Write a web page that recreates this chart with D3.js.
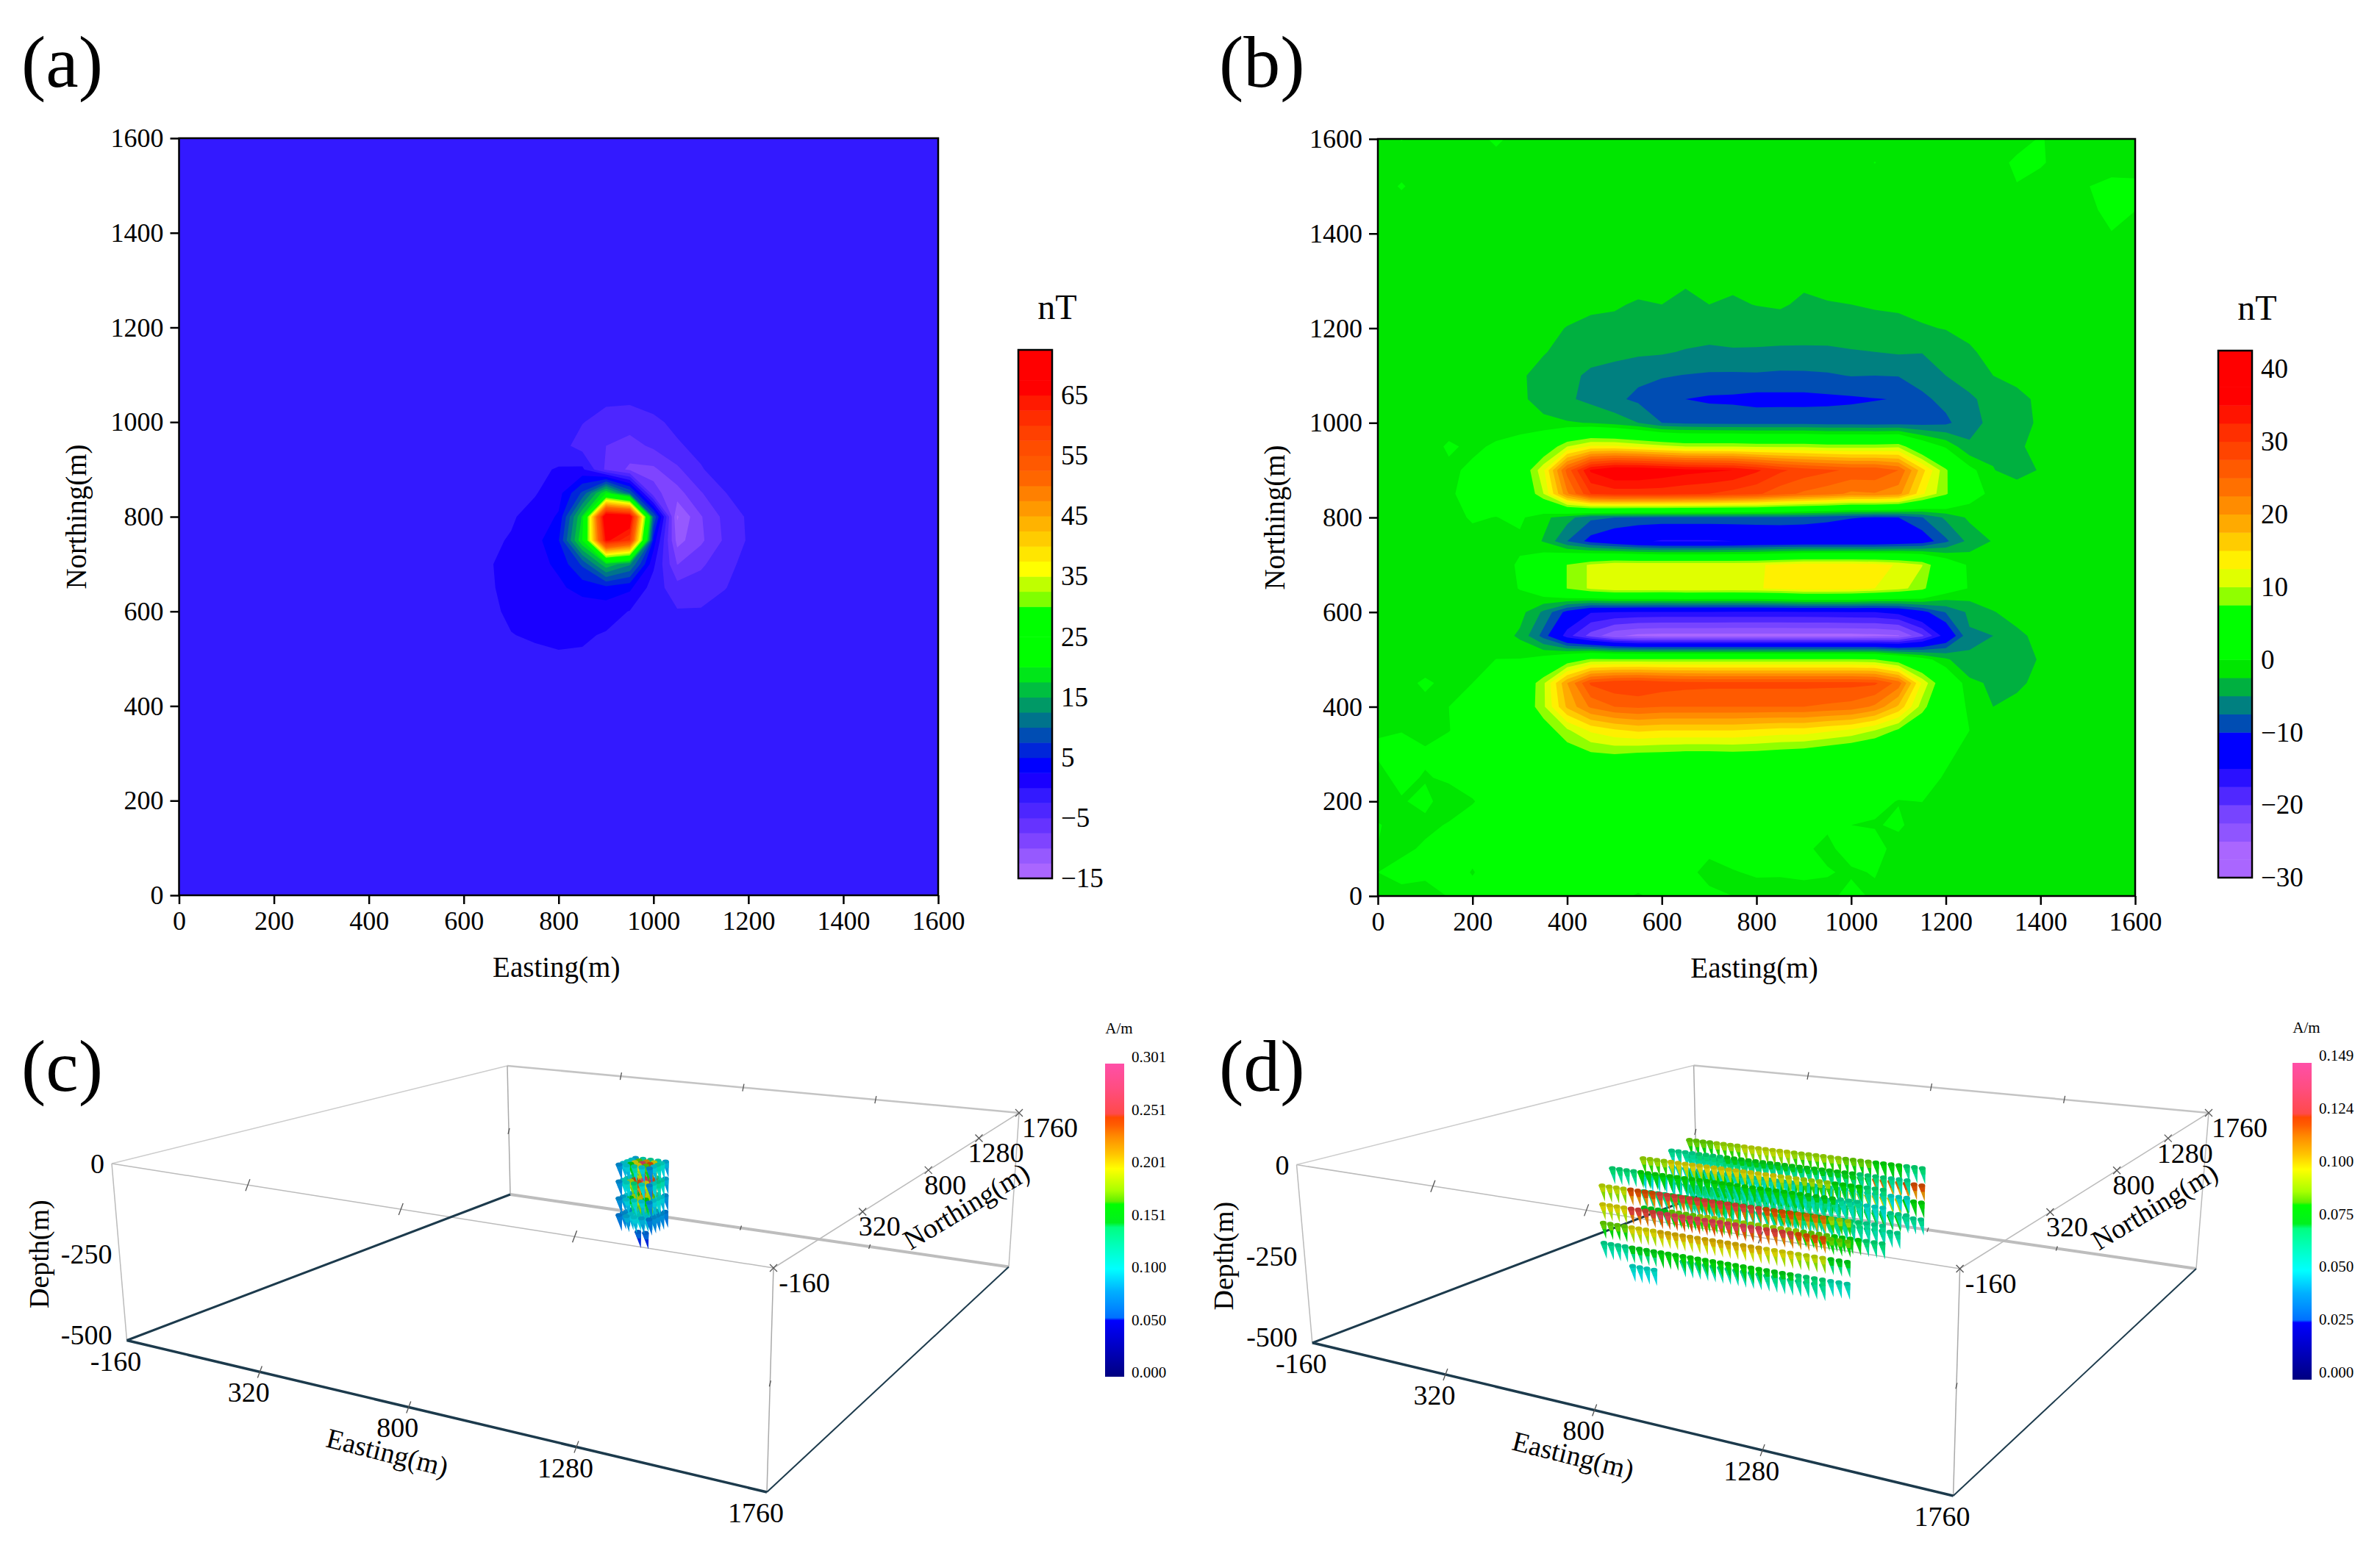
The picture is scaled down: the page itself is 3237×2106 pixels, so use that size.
<!DOCTYPE html>
<html>
<head>
<meta charset="utf-8">
<script src="https://d3js.org/d3.v7.min.js"></script>
<style>
  body { margin: 0; background: #fff; }
  text { font-family: "Liberation Serif", serif; fill: #000; }
</style>
</head>
<body>
<div id="my_dataviz"></div>
<script>
// grid nodes of the two contour maps (metres)
var gridEast = d3.range(0, 1601, 50);
var gridNorth = d3.range(1600, -1, -50);
var mapTicks = [0, 200, 400, 600, 800, 1000, 1200, 1400, 1600];

// panel (a): flat background plus the window around the anomaly
var aBackground = -1;
var aPatchEast = [600, 650, 700, 750, 800, 850, 900, 950, 1000, 1050, 1100, 1150, 1200, 1250];
var aPatchNorth = [1050, 1000, 950, 900, 850, 800, 750, 700, 650, 600, 550, 500];
var aPatch = [
  [-1,-1,-1,-1,-1,-1,-2,-2,-1.5,-1,-1,-1,-1,-1],
  [-1,-1,-1,-1,-1,-2.4,-3.4,-3.8,-3,-1.9,-1,-1,-1,-1],
  [-1,-1,-1,-1,-1.5,-3.5,-5,-6,-4.5,-2.8,-1.8,-1,-1,-1],
  [-1,-1,-1,-0.5,0.2,0.5,-5.5,-8,-8,-5.5,-2.7,-1.3,-1,-1],
  [-1,-1,-0.5,-0.2,1.5,8,20,10,-7,-8.5,-5.2,-2.6,-1.2,-1],
  [-1,-1,-0.3,1,2.8,18,72,70,10,-12.8,-7.7,-4.3,-2.1,-1],
  [-1,-0.5,0.2,1.5,4.8,20,66,60,4,-11,-8,-4.6,-2.2,-1],
  [-1,-0.2,0.6,1.6,3,8,17,13,0.5,-7.6,-5.5,-3.2,-1.8,-1],
  [-1,-0.3,0.6,1.2,2,3.5,4.2,3,-1.2,-4,-3.6,-2.6,-1.5,-1],
  [-1,-0.4,0.3,0.8,1.2,0.9,1,-0.1,-1,-2.3,-2.3,-1.6,-1,-1],
  [-1,-1,-0.05,0.2,0.5,0.3,-0.2,-1,-1,-1,-1,-1,-1,-1],
  [-1,-1,-1,-0.4,-0.3,-0.3,-1,-1,-1,-1,-1,-1,-1,-1]
];
var aTicks = [65, 55, 45, 35, 25, 15, 5, -5, -15];
var aBarDomain = [-15, 72.5];
// one colour per 2.5 nT band, lowest first
var aBands = ["#aa66ff","#9659ff","#7f44ff","#6633ff","#4d26ff","#3319ff","#1a00ff","#0000ff","#0026d9","#004db3",
  "#00738c","#009966","#00bf40","#00e619","#00ff00","#00ff00","#00ff00","#00ff00","#80ff00","#bfff00",
  "#ffff00","#ffe600","#ffcc00","#ffb300","#ff9900","#ff8000","#ff6600","#ff5900","#ff4d00","#ff4000",
  "#ff2d00","#ff1a00","#ff0000","#ff0000","#ff0000"];

// panel (b): rows from north 1600 down to 0, columns east 0 to 1600
var bGrid = [
  [-1,.1,-1,-1,-1,.5,-1,-1,-1,-1,-1,-1,-1,-1,-1,-1,-1,-1,-1,-1,-1,-1,-1,-1,-1,-1,-1,-1,.2,-1,-1,-1,-1],
  [-1,-1,-1,-1,-1,-1,-1,-1,-1,-1,-1,-1,-1,-1,-1,-1,-1,-1,-1,-1,-1,.05,-1,-1,-1,-1,-1,.5,.3,-1,-1,-1,-1],
  [-1,.2,-1,-1,-1,-1,-1,-1,-1,-1,-1,-1,-1,-1,-1,-1,-1,-1,-1,-1,-1,-1,-1,-1,-1,-1,-1,-.1,-1,-1,-.05,.6,.5],
  [-1,-1,-1,-1,-1,-1,-1,-1,-1,-1,-1,-1,-1,-1,-1,-1,-1,-1,-1,-1,-1,-1,-1,-1,-1,-1,-1,-1,-1,-1,-.3,.4,.05],
  [-1,-1,-1,-1,-1,-1,-1,-1,-1,-1,-1,-1,-1,-1,-1,-1,-1,-1,-1,-1,-1,-1,-1,-1,-1,-1,-1,-1,-1,-1,-1,-.05,-1],
  [-1,-1,-1,-1,-1,-1,-1,-1,-1,-1,-1,-1,-1,-1,-1,-1,-1,-1,-1,-1,-1,-1,-1,-1,-1,-1,-1,-1,-1,-1,-1,-1,-1],
  [-1,-1,-1,-1,-1,-1,-1,-1,-1,-1.4,-1.6,-1.8,-1.9,-2.3,-1.9,-2.2,-1.9,-1.8,-2.2,-2,-1.9,-1.8,-1.6,-1.3,-1,-1,-1,-1,-1,-1,-1,-.02,-1],
  [-1,-1,-1,-1,-1,-1,-1,-1.1,-1.5,-2.1,-2.3,-2.7,-2.5,-2.9,-2.5,-2.7,-2.45,-2.3,-2.8,-2.6,-2.5,-2.3,-2.1,-1.8,-1.5,-1.3,-1,-1,-1,-1,-1,-1,-1],
  [-1,-1,-1,-1,-1,-1,-1.2,-1.8,-2.6,-3,-3,-3.4,-3.2,-3.6,-3.4,-3.6,-3.4,-3.3,-3.7,-3.6,-3.4,-3.2,-3.2,-2.7,-2.4,-1.9,-1.3,-1.1,-1,-1,-1,-1,-1],
  [-1,-1,-1,-1,-1,-1.1,-1.2,-2.4,-3,-4,-4.3,-4.5,-4.7,-5.2,-5.7,-5.3,-5.4,-5.6,-5.5,-5.5,-5.2,-5,-4.7,-4.9,-3.8,-2.8,-1.8,-1.2,-1,-1,-1,-1,-1],
  [-1,-1,-1,-1,-1,-1,-2.3,-3,-4.3,-5.5,-6,-7,-7.3,-7.6,-7.8,-7.9,-7.8,-8,-8,-7.8,-7.4,-7.5,-7.4,-6.5,-5,-3.7,-2.5,-1.8,-1,-1,-1,-1,-1],
  [-1,-1,-1,-1,-1,-1.3,-2,-3.5,-4.6,-5.7,-7,-8,-9,-10,-10.4,-10.5,-10.9,-10.8,-10.8,-10.6,-10.4,-10.1,-9.9,-8,-6.8,-5.5,-3.9,-3.2,-2,-1.1,-1,-1,-1],
  [-1,-1,-1,-1,-1,-1,-1.5,-1.9,-2.3,-2.6,-3.5,-5,-7.5,-8,-8.2,-8.3,-8.3,-8.4,-8.4,-8.6,-8.6,-8.8,-8.7,-8.5,-8,-6,-4.2,-3.2,-2.2,-1,-1,-1,-1],
  [-1,-1,-1,.3,-.4,.3,1.5,4,10,13,13,12,11,10,10,10,9.5,9.5,9.5,9,9,9,9.5,3,-.5,-4.6,-3,-3,-1.5,-1,-1,-1,-1],
  [-1,-1,-1,-.4,.4,1,4,12,26,35.5,38,38,37,36,35.5,35,33,30.5,29,28,27,27,25,16,8,1,-2.4,-3.5,-2.3,-1,-1,-1,-1],
  [-1,-1,-1,-.3,.8,1.5,3,10,22,30,31,31,31,30.5,30,29,28,26,24.5,23.5,22,22.3,21,13,8,1.5,-.8,-1,-1,-1,-1,-1,-1],
  [-1,-1,-1,-.6,.2,-.05,.5,-1.8,-4,-7,-7.5,-7.8,-8,-8,-8,-8,-8,-8,-8.3,-9,-9.8,-10.2,-10,-7.6,-4.5,-2,-1.2,-1,-1,-1,-1,-1,-1],
  [-1,-1,-1,-1,-.6,-1,-.5,-2.7,-7.5,-11,-13,-14.5,-15.3,-15.3,-15.3,-15,-14.5,-14.2,-14,-14,-14,-14,-13,-12,-8,-4.2,-2.3,-1.2,-1,-1,-1,-1,-1],
  [-1,-1,-1,-1,-1,-1,.3,3,7.6,10.5,12,12,12,12,12,12.1,12.2,13,14,14,14,13.5,12.2,10.1,3,-.5,-1,-1,-1,-1,-1,-1,-1],
  [-1,-1,-.1,-1,-1,-1,.1,3,7.6,10.5,12,12,12,12.3,12.2,12.1,12.3,13,14,14,13.8,12.5,11,8.5,2,-.2,-1,-1,-1,-1,-1,-1,-1],
  [-1,-1,-1,-1,-1,-1,-1.5,-5.5,-11,-14.8,-15,-15.2,-15.3,-15.3,-15.3,-15.4,-15.4,-15.4,-15.3,-15.2,-15,-15,-14,-11,-7.3,-4.5,-2.6,-1.8,-1.2,-1,-1,-1,-1],
  [-1,-1,-1,-1,-1,-.9,-3,-8.5,-16.5,-21,-24.5,-25.7,-26,-26,-26,-26,-26,-26,-26,-26,-26,-25.7,-25.2,-20.5,-13.5,-5.3,-5,-2.9,-2,-1,-1,-1,-1],
  [-1,-1,-1,-.05,-.5,.02,.1,1.5,5,8,8,8,8,8,8,8,8,8,8,8,8,7.6,5,1.5,-2,-4.8,-4,-3,-2.4,-1,-1,-1,-1],
  [-.8,-.6,.3,-.5,0,1,3.5,9.5,20,28,29.5,30,29,28.5,28.3,28.3,28.3,28.3,28.3,28.3,28.3,28,24,12,4,-1.8,-3,-3,-1.8,-1,-1,-1,-1],
  [-1,-.8,-.5,0,.8,1.5,4,9.5,18,23,25,25.5,25,25,25,25,25,25,25,24.5,24,22,17,8.7,2.5,-.5,-2.5,-1.8,-1.2,-1,-1,-1,-1],
  [-.05,-.05,-.4,-.05,.8,1.2,2.5,5.5,9.5,13,14.5,15.5,15,15,15,15,14.5,14,14,13,12,10,7,4,.7,0,-1.4,-1,-1,-1,-1,-1,-1],
  [.1,.5,.2,.7,.9,1,1.5,3,5.5,7,7.5,7,6.8,6.5,6.5,6.7,6.5,6,5.5,4.5,3.5,2.5,1.5,.6,.2,-.3,-1,-1,-1,-1,-1,-1,-1],
  [-.3,.3,-.1,.2,.7,1.2,1.5,2,2.5,3,3.2,3,3,2.8,2.8,2.8,2.8,2.5,2.2,2,1.5,1.2,.8,.4,-.1,-1,-1,-1,-1,-1,-1,-1,-1],
  [-.8,-.1,.3,-.6,-.1,.8,1.3,1.6,1.8,2,2,2,1.8,1.8,1.7,1.6,1.5,1.2,1,.8,.6,.3,-.05,.02,-.8,-1,-1,-1,-1,-1,-1,-1,-1],
  [.1,-.5,-.3,.1,.7,1,1.2,1.4,1.5,1.5,1.4,1.4,1.3,1.2,1.2,1,.8,.6,.4,.2,0,-.1,.2,-.6,-1,-1,-1,-1,-1,-1,-1,-1,-1],
  [-.02,-.3,.2,.7,.5,.9,1,1.1,1.2,1.2,1.1,1,1,.9,.3,.7,.7,.5,.2,-.3,.6,.5,-.5,-1,-1,-1,-1,-1,-1,-1,-1,-1,-1],
  [0,.5,.5,.8,-.1,.9,.9,.9,.8,.8,.7,.6,.5,.4,-.4,-.1,.2,.1,.15,.1,-.2,.1,-.8,-1,-1,-1,-1,-1,-1,-1,-1,-1,-1],
  [-.5,-.5,-.9,.1,.6,.9,.8,.7,.6,.5,.3,-.1,.3,0,.3,0,-.7,-.4,-.3,-.4,.5,-.3,-1,-1,-1,-1,-1,-1,-1,-1,-1,-1,.1]
];
var bTicks = [40, 30, 20, 10, 0, -10, -20, -30];
var bBarDomain = [-30, 42.5];
var bBands = ["#aa66ff","#aa66ff","#8f55ff","#7744ff","#5028ff","#2a10ff","#0000ff","#0000ff","#004db3","#008080",
  "#00b040","#00e600","#00ff00","#00ff00","#00ff00","#90ff00","#e0ff00","#fff000","#ffcc00","#ffaa00",
  "#ff8c00","#ff7000","#ff5a00","#ff4400","#ff2f00","#ff1400","#ff0000","#ff0000","#ff0000"];

// 3D box axes
var eastTicks = [-160, 320, 800, 1280, 1760];
var northTicks = [-160, 320, 800, 1280, 1760];
var depthTicks = [0, -250, -500];

// panel (c): compact source, amplitude by depth, north, east (A/m)
var cEast = [850, 875, 900, 925, 950];
var cNorth = [850, 825, 800, 775, 750];
var cDepth = [-75, -125, -175, -225];
var cAmp = [
  [[.09,.12,.13,.12,.09],[.10,.17,.22,.20,.11],[.11,.20,.27,.24,.12],[.10,.16,.20,.17,.10],[.08,.10,.12,.10,.08]],
  [[.09,.13,.15,.13,.09],[.11,.20,.27,.24,.12],[.12,.25,.29,.27,.13],[.11,.19,.24,.20,.11],[.08,.11,.14,.11,.08]],
  [[.08,.11,.13,.11,.08],[.09,.16,.20,.17,.10],[.10,.19,.21,.19,.11],[.09,.15,.19,.16,.10],[.08,.10,.11,.10,.08]],
  [[.07,.09,.10,.09,.07],[.08,.10,.12,.10,.08],[.08,.11,.12,.11,.08],[.08,.10,.11,.10,.08],[.07,.09,.10,.09,.07]]
];
var cExtraEast = [900, 925];
var cExtraNorth = [775, 775];
var cExtraDepth = [-275, -275];
var cExtraAmp = [.06, .06];
var cBarTicks = ["0.000", "0.050", "0.100", "0.151", "0.201", "0.251", "0.301"];

// panel (d): long rows of cells, amplitude per stretch of the row
var dEast = d3.range(350, 1151, 25);
var dRowNorth = [900, 900, 900, 900, 900, 800, 800, 800, 650, 650, 650, 650, 500, 450, 450, 450, 450, 450, 450];
var dRowDepth = [-280, -230, -180, -130, -80, -195, -145, -95, -240, -190, -140, -90, -90, -355, -315, -300, -240, -185, -130];
var dRowAmp = [
  [.06,.065,.065,.065,.065,.065,.065,.065,null],
  [.07,.075,.075,.075,.075,.075,.075,.08,.065],
  [.075,.08,.075,.075,.075,.085,.09,.10,.08],
  [.065,.07,.07,.065,.065,.065,.075,.115,.12],
  [.085,.09,.095,.095,.09,.09,.085,.08,.07],
  [.065,.07,.07,.07,.07,.07,.07,.07,.065],
  [.055,.06,.06,.06,.06,.06,.06,.06,.055],
  [.065,.07,.075,.075,.075,.075,.075,.07,.065],
  [.075,.085,.09,.09,.09,.09,.085,.08,.07],
  [.07,.075,.08,.08,.08,.08,.075,.07,.065],
  [.055,.06,.06,.06,.06,.06,.06,.06,.055],
  [.09,.10,.10,.10,.10,.095,.09,.08,.07],
  [.07,.08,.08,.08,.08,.08,.08,.075,.065],
  [null,.055,null,null,null,null,null,null,null],
  [null,null,null,.065,.065,.065,.065,.065,null],
  [.065,.075,.08,.08,.08,.08,.075,.07,.06],
  [.085,.10,.105,.105,.105,.105,.10,.095,.075],
  [.10,.125,.13,.13,.13,.13,.125,.12,.085],
  [.095,.12,.125,.125,.125,.125,.12,.115,.09]
];
var dBarTicks = ["0.000", "0.025", "0.050", "0.075", "0.100", "0.124", "0.149"];

// rainbow used by both 3D colour bars, fraction of full scale to colour
var rainbowStops = [0, .18, .188, .273, .344, .414, .477, .492, .551, .56, .594, .664, .711, .766, .805, .828, .84, .92, 1];
var rainbowColors = ["#000080","#0000ff","#0070ff","#00b0ff","#00ffff","#00ffc0","#00ff80","#00f020","#00ff00","#60f000",
  "#a8ff00","#ffff00","#ffc400","#ff8c00","#ff5c00","#ff4a00","#ff4a4a","#ff4d80","#ff4fa8"];
var rainbow = d3.scaleLinear().domain(rainbowStops).range(rainbowColors);

bGrid.forEach(function(r, i) { if (r.length != gridEast.length) throw new Error("bGrid row " + i + " has " + r.length); });

var svg = d3.select("#my_dataviz").append("svg")
    .attr("width", 3237)
    .attr("height", 2106);

var defs = svg.append("defs");

// flatten panel (a) into the full grid
var aValues = [];
gridNorth.forEach(function(n) {
  gridEast.forEach(function(e) {
    var i = aPatchEast.indexOf(e), j = aPatchNorth.indexOf(n);
    aValues.push(i >= 0 && j >= 0 ? aPatch[j][i] : aBackground);
  });
});

function contourMap(id, values, thresholds, bands, left, right, bottom, top) {
  var x = d3.scaleLinear().domain([0, 1600]).range([left, right]);
  var y = d3.scaleLinear().domain([0, 1600]).range([bottom, top]);
  var g = svg.append("g");

  defs.append("clipPath").attr("id", id)
    .append("rect")
      .attr("x", left).attr("y", top)
      .attr("width", right - left).attr("height", bottom - top);

  var contours = d3.contours()
      .size([gridEast.length, gridNorth.length])
      .thresholds(thresholds)(values);

  // contour coordinates have node centres at +0.5
  var toPlot = d3.geoTransform({
    point: function(px, py) {
      this.stream.point(x((px - 0.5) * 50), y(1600 - (py - 0.5) * 50));
    }
  });

  g.append("g").attr("clip-path", "url(#" + id + ")")
    .selectAll("path")
    .data(contours)
    .enter().append("path")
      .attr("d", d3.geoPath(toPlot))
      .attr("fill", function(d, i) { return bands[i]; });

  var ax = g.append("g").attr("transform", "translate(0," + bottom + ")")
      .call(d3.axisBottom(x).tickValues(mapTicks).tickSize(12).tickPadding(9).tickFormat(d3.format("d")));
  var ay = g.append("g").attr("transform", "translate(" + left + ",0)")
      .call(d3.axisLeft(y).tickValues(mapTicks).tickSize(12).tickPadding(9).tickFormat(d3.format("d")));
  [ax, ay].forEach(function(a) {
    a.select(".domain").remove();
    a.selectAll("line").attr("stroke", "#000").attr("stroke-width", 2.5);
    a.selectAll("text").style("font-family", "Liberation Serif").style("font-size", "36px").attr("fill", "#000");
  });

  g.append("rect")
    .attr("x", left).attr("y", top)
    .attr("width", right - left).attr("height", bottom - top)
    .attr("fill", "none").attr("stroke", "#000").attr("stroke-width", 2.5);

  g.append("text")
    .attr("x", (left + right) / 2 - 3).attr("y", bottom + 111)
    .attr("text-anchor", "middle").style("font-size", "39px")
    .text("Easting(m)");
  g.append("text")
    .attr("transform", "translate(" + (left - 127) + "," + ((top + bottom) / 2) + ") rotate(-90)")
    .attr("text-anchor", "middle").style("font-size", "39px")
    .text("Northing(m)");
}

function bandBar(bands, thresholds, domain, ticks, left, width, top, bottom) {
  var y = d3.scaleLinear().domain(domain).range([bottom, top]);
  var g = svg.append("g");
  g.selectAll("rect")
    .data(thresholds)
    .enter().append("rect")
      .attr("x", left)
      .attr("width", width)
      .attr("y", function(d) { return y(d + 2.5); })
      .attr("height", function(d) { return y(d) - y(d + 2.5) + 0.5; })
      .attr("fill", function(d, i) { return bands[i]; });
  g.append("rect")
    .attr("x", left).attr("y", top)
    .attr("width", width).attr("height", bottom - top)
    .attr("fill", "none").attr("stroke", "#000").attr("stroke-width", 2.5);
  var a = g.append("g").attr("transform", "translate(" + (left + width) + ",0)")
      .call(d3.axisRight(y).tickValues(ticks).tickSize(0).tickPadding(12));
  a.select(".domain").remove();
  a.selectAll("text").style("font-family", "Liberation Serif").style("font-size", "37px").attr("fill", "#000");
  g.append("text")
    .attr("x", left + width / 2 + 30).attr("y", top - 42)
    .attr("text-anchor", "middle").style("font-size", "48px")
    .text("nT");
}

function thresholdsFor(domain) {
  return d3.range(domain[0], domain[1], 2.5);
}

contourMap("clip-a", aValues, thresholdsFor(aBarDomain), aBands, 243.5, 1276, 1218, 188);
contourMap("clip-b", d3.merge(bGrid), thresholdsFor(bBarDomain), bBands, 1874, 2904, 1219, 189);
bandBar(aBands, thresholdsFor(aBarDomain), aBarDomain, aTicks, 1385, 46, 476, 1195);
bandBar(bBands, thresholdsFor(bBarDomain), bBarDomain, bTicks, 3017, 46, 477, 1194);

// perspective projection of the 3D box: weights grow with distance from the viewer
var uScale = d3.scaleLinear().domain([-160, 1760]).range([0, 1]);
var vScale = d3.scaleLinear().domain([-160, 1760]).range([0, 1]);
var dScale = d3.scaleLinear().domain([0, -500]).range([0, 1]);
var wE = -0.224, wN = 0.55, wD = 0.05;

function projector(c) {
  return function(e, n, z) {
    var u = uScale(e), v = vScale(n), d = dScale(z);
    var w = 1 + wE * u + wN * v + wD * d;
    var px = 0, py = 0;
    [[0, 0, 0, "a"], [1, 0, 0, "b"], [1, 1, 0, "c"], [0, 1, 0, "d"], [0, 0, 1, "A"], [1, 0, 1, "B"], [1, 1, 1, "C"], [0, 1, 1, "D"]].forEach(function(k) {
      var b = (k[0] ? u : 1 - u) * (k[1] ? v : 1 - v) * (k[2] ? d : 1 - d);
      var wi = 1 + wE * k[0] + wN * k[1] + wD * k[2];
      px += b * wi * c[k[3]][0];
      py += b * wi * c[k[3]][1];
    });
    return [px / w, py / w];
  };
}

function box3d(corners) {
  var p = projector(corners);
  var g = svg.append("g");
  var E0 = -160, E1 = 1760, N0 = -160, N1 = 1760, Z0 = 0, Z1 = -500;
  var line = d3.line();

  function edge(a, b, color, width) {
    g.append("path").attr("d", line([p.apply(null, a), p.apply(null, b)]))
      .attr("fill", "none").attr("stroke", color).attr("stroke-width", width);
  }

  // back and top edges first, dark floor edges last
  edge([E0,N1,Z1], [E1,N1,Z1], "#bdbdbd", 4);
  edge([E0,N1,Z0], [E1,N1,Z0], "#c4c4c4", 2.5);
  edge([E0,N0,Z0], [E0,N1,Z0], "#cccccc", 1.5);
  edge([E0,N0,Z0], [E1,N0,Z0], "#bbbbbb", 1.5);
  edge([E1,N0,Z0], [E1,N1,Z0], "#bbbbbb", 1.5);
  edge([E0,N0,Z0], [E0,N0,Z1], "#bbbbbb", 1.5);
  edge([E1,N0,Z0], [E1,N0,Z1], "#aaaaaa", 1.5);
  edge([E1,N1,Z0], [E1,N1,Z1], "#bbbbbb", 1.5);
  edge([E0,N1,Z0], [E0,N1,Z1], "#aaaaaa", 1.5);
  edge([E0,N0,Z1], [E0,N1,Z1], "#1c3a4c", 3);
  edge([E0,N0,Z1], [E1,N0,Z1], "#1c3a4c", 3.5);
  edge([E1,N0,Z1], [E1,N1,Z1], "#1c3a4c", 2);

  // tick marks
  function tick(pt, dx, dy) {
    var q = p.apply(null, pt);
    g.append("path").attr("d", line([[q[0] - dx, q[1] - dy], [q[0] + dx, q[1] + dy]]))
      .attr("stroke", "#555").attr("stroke-width", 1.3).attr("fill", "none");
  }
  eastTicks.slice(1, 4).forEach(function(e) {
    tick([e, N0, Z0], 3, -8);
    tick([e, N0, Z1], 3, -8);
    tick([e, N1, Z0], 1, -5);
    tick([e, N1, Z1], 1, -3);
  });
  northTicks.forEach(function(n) {
    tick([E1, n, Z0], 5, 5);
    tick([E1, n, Z0], 5, -5);
  });
  tick([E1, N0, -250], 1, -4);
  tick([E0, N1, -250], 1, -4);

  // labels hang off the projected tick positions
  function label(pt, dx, dy, s, anchor) {
    var q = p.apply(null, pt);
    g.append("text")
      .attr("x", q[0] + dx).attr("y", q[1] + dy)
      .attr("text-anchor", anchor || "middle")
      .style("font-size", "38px")
      .text(s);
  }
  eastTicks.forEach(function(e) { label([e, N0, Z1], -15, 41, e); });
  northTicks.forEach(function(n, i) {
    label([E1, n, Z0], i == 0 || i == 4 ? 42 : 23, 33, n);
  });
  depthTicks.forEach(function(z) {
    label([E0, N0, z], z == -500 ? -20 : -10, z == -500 ? 5 : 13, z == 0 ? "0" : String(z), "end");
  });

  function title(pt, dx, dy, angle, s) {
    var q = p.apply(null, pt);
    g.append("text")
      .attr("transform", "translate(" + (q[0] + dx) + "," + (q[1] + dy) + ") rotate(" + angle + ")")
      .attr("text-anchor", "middle").style("font-size", "38px")
      .text(s);
  }
  title([800, N0, Z1], -32, 74, 14, "Easting(m)");
  title([E1, 800, Z0], 58, 60, -31, "Northing(m)");
  title([E0, N0, -250], -97, 0, -90, "Depth(m)");

  return p;
}

function cone(g, q, amp, maxAmp) {
  var w = 4.5, len = 22, lean = 4;
  var body = d3.color(rainbow(amp * 0.92 / maxAmp)).darker(0.45);
  var mid = d3.color(rainbow(amp / maxAmp)).darker(0.5);
  var head = d3.color(rainbow(amp / maxAmp)).darker(0.8);
  g.append("path")
    .attr("d", d3.line()([[q[0] - w, q[1]], [q[0] + w, q[1]], [q[0] + lean, q[1] + len]]) + "Z")
    .attr("fill", body);
  g.append("path")
    .attr("d", d3.line()([[q[0] - w, q[1]], [q[0] + w, q[1]], [q[0] + 0.4 * lean + 2.5, q[1] + 0.4 * len], [q[0] + 0.4 * lean - 2.5, q[1] + 0.4 * len]]) + "Z")
    .attr("fill", mid);
  g.append("ellipse")
    .attr("cx", q[0]).attr("cy", q[1])
    .attr("rx", w).attr("ry", 2.8)
    .attr("fill", head);
}

function gradientBar(id, ticks, x, width, top, bottom, labelTop, labelBottom) {
  var grad = defs.append("linearGradient").attr("id", id)
      .attr("x1", 0).attr("x2", 0).attr("y1", 1).attr("y2", 0);
  rainbowStops.forEach(function(s, i) {
    grad.append("stop").attr("offset", s).attr("stop-color", rainbowColors[i]);
  });
  svg.append("rect")
    .attr("x", x).attr("y", top)
    .attr("width", width).attr("height", bottom - top)
    .attr("fill", "url(#" + id + ")");
  var y = d3.scalePoint().domain(ticks).range([labelBottom, labelTop]);
  svg.append("g").selectAll("text")
    .data(ticks)
    .enter().append("text")
      .attr("x", x + width + 10)
      .attr("y", function(d) { return y(d) + 7; })
      .style("font-size", "21px")
      .text(function(d) { return d; });
  svg.append("text")
    .attr("x", x + width / 2 + 6).attr("y", top - 41)
    .attr("text-anchor", "middle").style("font-size", "21px")
    .text("A/m");
}

// panel (c)
var pc = box3d({
  a: [152, 1583], b: [1052, 1725], c: [1386, 1514], d: [690, 1450],
  A: [172.5, 1823.5], B: [1043, 2030], C: [1372, 1723.5], D: [694, 1625]
});
var cGroup = svg.append("g");
cExtraEast.forEach(function(e, i) {
  cone(cGroup, pc(e, cExtraNorth[i], cExtraDepth[i]), cExtraAmp[i], 0.301);
});
cDepth.slice().reverse().forEach(function(z, zi) {
  var layer = cAmp[cDepth.length - 1 - zi];
  cNorth.forEach(function(n, j) {
    cEast.forEach(function(e, i) {
      cone(cGroup, pc(e, n, z), layer[j][i], 0.301);
    });
  });
});
gradientBar("bar-c", cBarTicks, 1503, 26, 1447, 1873, 1438, 1867);

// panel (d)
var pd = box3d({
  a: [1763.5, 1584.6], b: [2665.6, 1726], c: [3004, 1514], d: [2303.6, 1449.4],
  A: [1784.8, 1826.8], B: [2656.6, 2035], C: [2987, 1726], D: [2308, 1627.7]
});
var dGroup = svg.append("g");
dRowNorth.forEach(function(n, r) {
  dEast.forEach(function(e, i) {
    var amp = dRowAmp[r][Math.floor(i * dRowAmp[r].length / dEast.length)];
    if (amp != null) cone(dGroup, pd(e, n, dRowDepth[r]), amp, 0.149);
  });
});
gradientBar("bar-d", dBarTicks, 3118, 26, 1446, 1877, 1436, 1867);

// panel letters
var letters = ["(a)", "(b)", "(c)", "(d)"];
var letterX = [29, 1658, 29, 1658];
var letterY = [118, 118, 1484, 1484];
svg.append("g").selectAll("text")
  .data(letters)
  .enter().append("text")
    .attr("x", function(d, i) { return letterX[i]; })
    .attr("y", function(d, i) { return letterY[i]; })
    .style("font-size", "100px")
    .text(function(d) { return d; });
</script>
</body>
</html>
